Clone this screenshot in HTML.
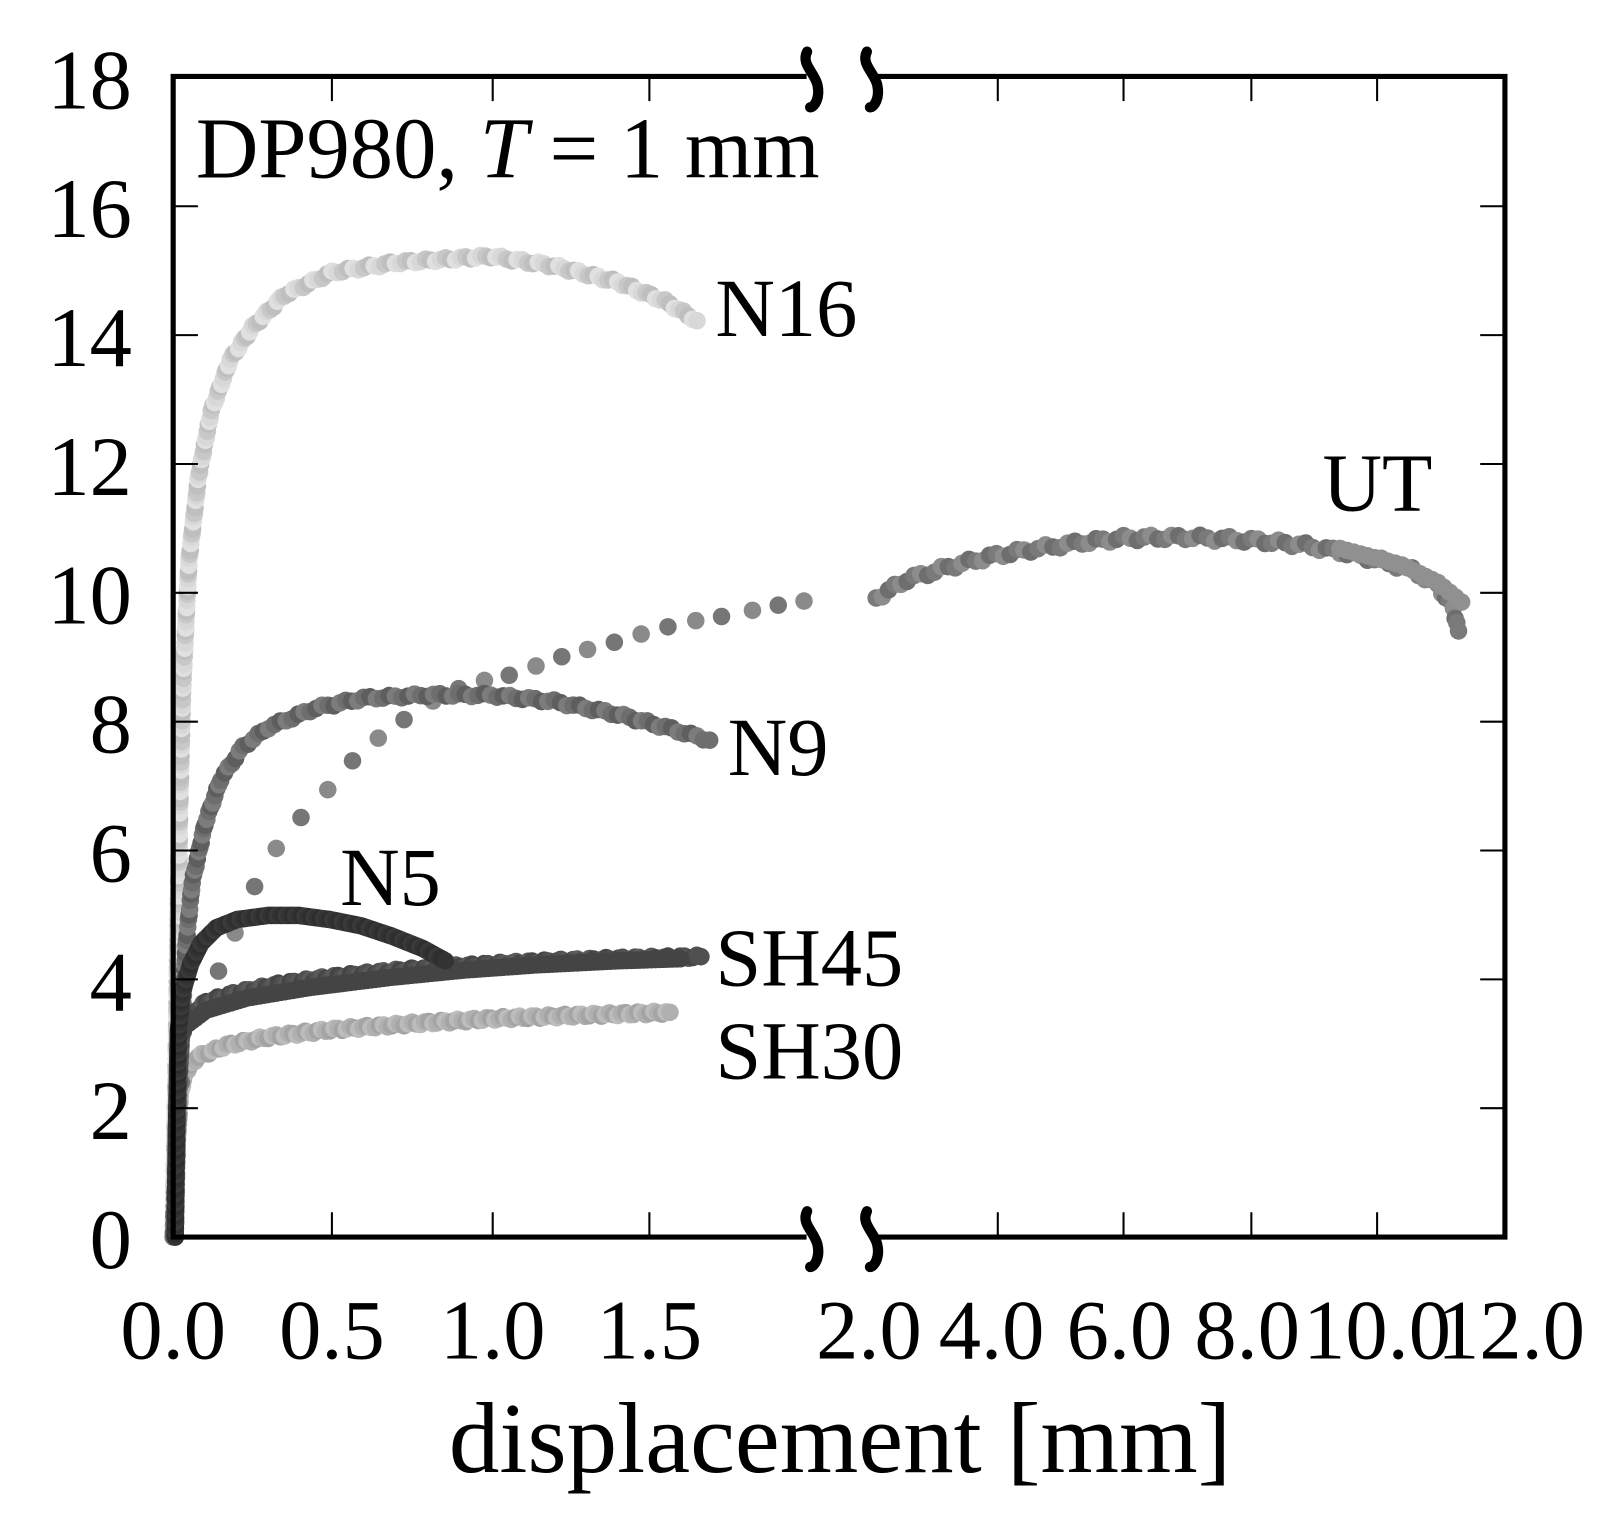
<!DOCTYPE html>
<html><head><meta charset="utf-8"><style>
html,body{margin:0;padding:0;background:#fff;}
svg{display:block;}
text{font-family:"Liberation Serif",serif;fill:#000;}
</style></head><body>
<svg id="s" width="1608" height="1533" viewBox="0 0 1560 1487" xmlns="http://www.w3.org/2000/svg">
<rect x="0" y="0" width="1560" height="1487" fill="#fff"/>
<g id="data"></g>
<g stroke="#000" stroke-width="5" fill="none" stroke-linecap="square">
<path d="M780,74 H168 V1200 H780"/>
<path d="M852,74 H1460 V1200 H852"/>
</g>
<g stroke="#000" stroke-width="2">
<path d="M168,1075H192 M168,950H192 M168,825H192 M168,700H192 M168,575H192 M168,450H192 M168,325H192 M168,200H192"/>
<path d="M1460,1075H1436 M1460,950H1436 M1460,825H1436 M1460,700H1436 M1460,575H1436 M1460,450H1436 M1460,325H1436 M1460,200H1436"/>
<path d="M322,1200V1176 M478,1200V1176 M630,1200V1176 M968,1200V1176 M1090,1200V1176 M1214,1200V1176 M1336,1200V1176"/>
<path d="M322,74V98 M478,74V98 M630,74V98 M968,74V98 M1090,74V98 M1214,74V98 M1336,74V98"/>
</g>
<g stroke="#000" stroke-width="10" fill="none" stroke-linecap="round">
<path d="M783,50 C777,62 790,70 793,82 C796,95 790,104 786,104"/>
<path d="M841,50 C835,62 848,70 851,82 C854,95 848,104 844,104"/>
<path d="M783,1175 C777,1187 790,1195 793,1207 C796,1220 790,1229 786,1229"/>
<path d="M841,1175 C835,1187 848,1195 851,1207 C854,1220 848,1229 844,1229"/>
</g>
<g font-size="82" text-anchor="end">
<text x="128" y="105">18</text><text x="128" y="230">16</text><text x="128" y="355">14</text>
<text x="128" y="480">12</text><text x="128" y="605">10</text><text x="128" y="730">8</text>
<text x="128" y="855">6</text><text x="128" y="980">4</text><text x="128" y="1105">2</text>
<text x="128" y="1230">0</text>
</g>
<g font-size="82" text-anchor="middle">
<text x="168" y="1318">0.0</text><text x="322" y="1318">0.5</text><text x="478" y="1318">1.0</text>
<text x="630" y="1318">1.5</text><text x="843" y="1318">2.0</text><text x="962" y="1318">4.0</text>
<text x="1086" y="1318">6.0</text><text x="1210" y="1318">8.0</text><text x="1336" y="1318">10.0</text>
<text x="1466" y="1318">12.0</text>
</g>
<text x="815" y="1428" font-size="98" text-anchor="middle">displacement [mm]</text>
<text x="190" y="172" font-size="84">DP980, <tspan font-style="italic">T</tspan> = 1 mm</text>
<g font-size="80">
<text x="694" y="326">N16</text>
<text x="1283" y="495">UT</text>
<text x="706" y="752">N9</text>
<text x="330" y="878">N5</text>
<text x="694" y="956">SH45</text>
<text x="694" y="1046">SH30</text>
</g>
</svg>
<script>
(function(){
var g=document.getElementById('data'),NS='http://www.w3.org/2000/svg';
function X(d){return d<=2?168+d*308:848+(d-2)*61;}
function Y(v){return 1200-v*62.6;}
function dots(pts,sp,r,cols,jit){
 var k=0;
 for(var i=0;i<pts.length-1;i++){
  var a=pts[i],b=pts[i+1],L=Math.hypot(b[0]-a[0],b[1]-a[1]),n=Math.max(1,Math.round(L/sp));
  for(var j=0;j<n;j++){var t=j/n;var c=document.createElementNS(NS,'circle');
   c.setAttribute('cx',a[0]+(b[0]-a[0])*t);c.setAttribute('cy',a[1]+(b[1]-a[1])*t+(jit?Math.sin(k*1.7)*jit:0));
   c.setAttribute('r',r);c.setAttribute('fill',cols[k%cols.length]);g.appendChild(c);k++;}
 }
 var e=pts[pts.length-1],c=document.createElementNS(NS,'circle');c.setAttribute('cx',e[0]);c.setAttribute('cy',e[1]);c.setAttribute('r',r);c.setAttribute('fill',cols[0]);g.appendChild(c);
}
function D(arr){return arr.map(function(p){return [X(p[0]),Y(p[1])];});}
dots([[170,1200],[172,1110],[175,1060],[180,1040],[192,1025],[220,1014],[260,1006],[320,999],[400,993],[480,988],[560,985],[650,982]],4,8.5,['#b0b0b0','#a4a4a4','#bcbcbc'],1.5);
var ut=[[170,1200],[172,1120],[176,1050],[185,990],[212,942],[228,905],[247,860],[268,823],[292,793],[318,766],[342,738],[367,716],[392,698],[420,680],[445,668],[470,660],[494,655],[520,646],[545,637],[570,630],[596,623],[622,615],[648,608],[675,602],[700,598],[730,592],[755,587],[780,583]];
ut.forEach(function(p,i){var c=document.createElementNS(NS,'circle');c.setAttribute('cx',p[0]);c.setAttribute('cy',p[1]);c.setAttribute('r',8.5);c.setAttribute('fill',i%2?'#8a8a8a':'#767676');g.appendChild(c);});
dots([[850,580],[880,562],[920,550],[960,540],[1000,533],[1050,526],[1090,522],[1150,521],[1214,524],[1260,528],[1300,535],[1340,544],[1370,553],[1395,568],[1410,590],[1415,612]],7,8.5,['#7a7a7a','#8c8c8c','#6e6e6e'],2.5);
dots([[1300,532],[1360,548],[1395,565],[1418,584]],7,8.5,['#909090']);
dots(D([[0,0],[0.01,3],[0.02,6.5],[0.03,8.5],[0.05,10.5],[0.08,11.8],[0.12,12.8],[0.18,13.6],[0.25,14.1],[0.35,14.6],[0.5,14.95],[0.7,15.1],[1.0,15.2],[1.2,15.05],[1.4,14.8],[1.55,14.5],[1.65,14.2]]),5,8.5,['#d8d8d8','#c8c8c8','#bfbfbf','#e0e0e0'],1.5);
dots(D([[0,0],[0.02,2.5],[0.04,4.5],[0.06,5.5],[0.1,6.4],[0.15,7.1],[0.22,7.6],[0.3,7.9],[0.45,8.2],[0.6,8.35],[0.8,8.4],[1.0,8.4],[1.2,8.3],[1.4,8.1],[1.55,7.9],[1.69,7.7]]),6,8.5,['#6e6e6e','#5e5e5e','#7c7c7c'],1.5);
dots([[170,1200],[172,1070],[176,1005],[185,985],[200,972],[230,963],[270,955],[320,948],[380,942],[450,937],[520,933],[600,930],[680,928]],4,8.5,['#505050','#5a5a5a','#464646'],1.5);
dots([[180,995],[200,980],[240,968],[300,958],[380,948],[450,941],[520,936],[600,932],[660,930]],4,8.5,['#444']);
dots([[170,1200],[171,1100],[173,1000],[177,962],[185,935],[195,915],[210,900],[230,892],[260,888],[290,888],[320,892],[350,898],[380,908],[410,920],[432,932]],3,8.5,['#333','#2e2e2e','#3a3a3a']);
})();
</script>
</body></html>
